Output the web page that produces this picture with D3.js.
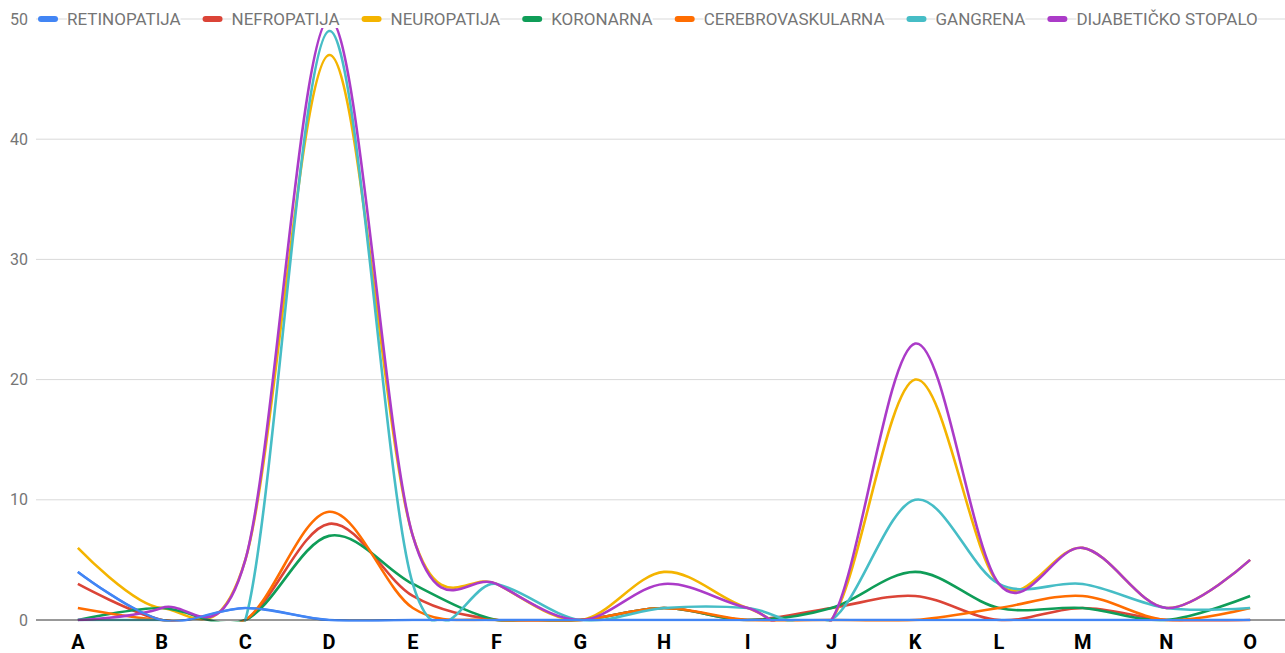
<!DOCTYPE html>
<html>
<head>
<meta charset="utf-8">
<title>Komplikacije</title>
<script src="https://d3js.org/d3.v7.min.js"></script>
<style>
  body { margin: 0; background: #fff; }
  svg { display: block; font-family: Roboto, "Noto Sans", sans-serif; }
  .grid line { stroke: #d9d9d9; stroke-width: 1; }
  .ylab { fill: #757575; font-size: 16px; }
  .xlab { fill: #000; font-size: 20px; font-weight: bold; }
  .legend text { fill: #757575; font-size: 17px; }
</style>
</head>
<body>
<svg width="1285" height="653"></svg>
<script>
const categories = ["A","B","C","D","E","F","G","H","I","J","K","L","M","N","O"];
const seriesNames = ["RETINOPATIJA","NEFROPATIJA","NEUROPATIJA","KORONARNA","CEREBROVASKULARNA","GANGRENA","DIJABETIČKO STOPALO"];
const retinopatija      = [4,0,1,0,0,0,0,0,0,0,0,0,0,0,0];
const nefropatija       = [3,0,0,8,2,0,0,1,0,1,2,0,1,0,0];
const neuropatija       = [6,1,5,47,7,3,0,4,1,0,20,3,6,1,5];
const koronarna         = [0,1,0,7,3,0,0,1,0,1,4,1,1,0,2];
const cerebrovaskularna = [1,0,0,9,1,0,0,1,0,0,0,1,2,0,1];
const gangrena          = [0,0,0,49,3,3,0,1,1,0,10,3,3,1,1];
const dijabetickoStopalo = [0,1,5,50,7,3,0,3,1,0,23,3,6,1,5];
const yTicks = [0,10,20,30,40,50];

const colors = ["#4285f4","#db4437","#f4b400","#0f9d58","#ff6d01","#46bdc6","#ab3bc8"];
const values = [retinopatija, nefropatija, neuropatija, koronarna, cerebrovaskularna, gangrena, dijabetickoStopalo];
const series = seriesNames.map((name, i) => ({ name, color: colors[i], values: values[i] }));

const svg = d3.select("svg");
const plotLeft = 36, plotRight = 1292, plotTop = 19, plotBottom = 620;

const x = d3.scalePoint().domain(categories).range([plotLeft, plotRight]).padding(0.5);
const y = d3.scaleLinear().domain([0, 50]).range([plotBottom, plotTop]);

// grid
svg.append("g").attr("class", "grid")
  .selectAll("line").data(yTicks.filter(d => d > 0)).enter().append("line")
  .attr("x1", plotLeft).attr("x2", 1285)
  .attr("y1", d => y(d)).attr("y2", d => y(d));

svg.append("g").selectAll("text").data(yTicks).enter().append("text")
  .attr("class", "ylab")
  .attr("x", 28).attr("y", d => y(d)).attr("dy", "0.35em")
  .attr("text-anchor", "end")
  .text(d => d);

// clip lines at the zero line like the original
svg.append("defs").append("clipPath").attr("id", "plot")
  .append("rect").attr("x", plotLeft).attr("y", 0).attr("width", 1285 - plotLeft).attr("height", plotBottom + 1.5);

const line = d3.line()
  .x((d, i) => x(categories[i]))
  .y(d => y(d))
  .curve(d3.curveCardinal.tension(0));

svg.append("g").attr("clip-path", "url(#plot)")
  .selectAll("path").data(series).enter().append("path")
  .attr("fill", "none")
  .attr("stroke", d => d.color)
  .attr("stroke-width", 2.6)
  .attr("d", d => line(d.values));

// baseline
svg.append("line")
  .attr("x1", plotLeft).attr("x2", 1285)
  .attr("y1", y(0)).attr("y2", y(0))
  .attr("stroke", "#333").attr("stroke-width", 1);

// redraw retinopatija over the baseline
svg.append("path")
  .attr("clip-path", "url(#plot)")
  .attr("fill", "none").attr("stroke", colors[0]).attr("stroke-width", 2)
  .attr("d", line(retinopatija));

// x labels
svg.append("g").selectAll("text").data(categories).enter().append("text")
  .attr("class", "xlab")
  .attr("x", d => x(d)).attr("y", 649)
  .attr("text-anchor", "middle")
  .text(d => d);

// legend sitting on top of the 50 grid line
const legend = svg.append("g").attr("class", "legend");
let lx = 38;
series.forEach(s => {
  legend.append("rect")
    .attr("x", lx).attr("y", plotTop - 3).attr("width", 20).attr("height", 6)
    .attr("rx", 3).attr("fill", s.color);
  const bg = legend.append("rect").attr("fill", "#fff");
  const t = legend.append("text")
    .attr("x", lx + 29).attr("y", plotTop).attr("dy", "0.35em")
    .text(s.name);
  const w = t.node().getComputedTextLength();
  bg.attr("x", lx + 29).attr("y", plotTop - 9).attr("width", w).attr("height", 18);
  lx += 29 + w + 22;
});
</script>
</body>
</html>
